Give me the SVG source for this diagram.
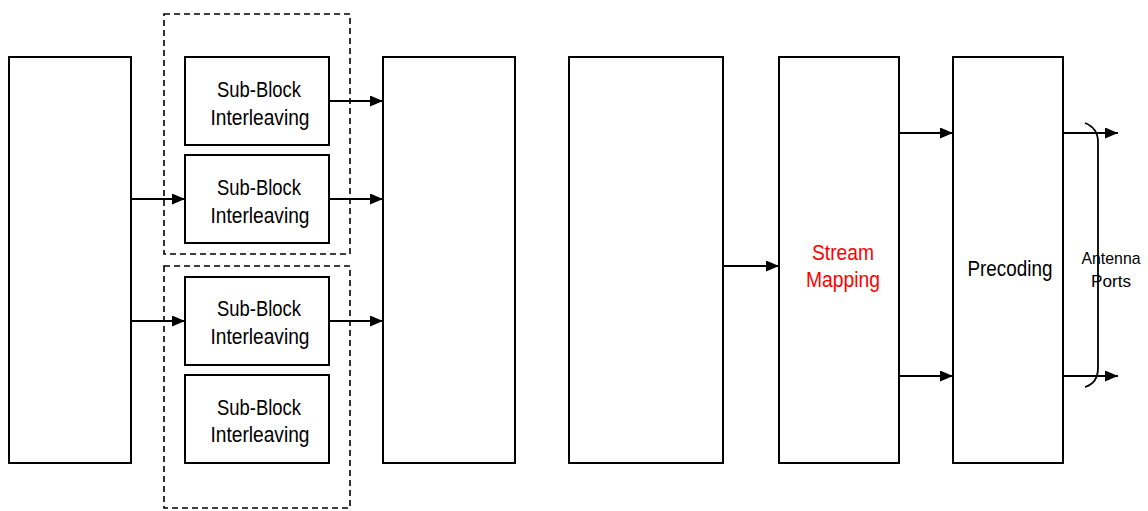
<svg xmlns="http://www.w3.org/2000/svg" width="1148" height="511" viewBox="0 0 1148 511">
<style>
.box{fill:#fff;stroke:#000;stroke-width:2}
.dash{fill:none;stroke:#000;stroke-width:1.6;stroke-dasharray:6,4}
.t{font-family:"Liberation Sans",Arial,sans-serif;font-size:22px;fill:#000;text-anchor:middle}
.r{fill:#f00}
.s{font-family:"Liberation Sans",Arial,sans-serif;font-size:17px;fill:#000;text-anchor:middle}
.c{stroke:#000;stroke-width:1.8;fill:none}
</style>
<defs>
<marker id="ah" markerWidth="13" markerHeight="11" refX="13" refY="5.5" orient="auto" markerUnits="userSpaceOnUse">
<path d="M0,0 L13,5.5 L0,11 Z" fill="#000"/>
</marker>
</defs>
<rect width="1148" height="511" fill="#fff"/>
<g id="groups">
<rect class="dash" x="164" y="14" width="186" height="240"/>
<rect class="dash" x="164" y="266" width="186" height="242"/>
</g>
<g id="block1"><rect class="box" x="9" y="57" width="122" height="406"/></g>
<g id="sbi1"><rect class="box" x="185" y="57" width="144" height="88"/>
<text class="t" x="259" y="97" textLength="84" lengthAdjust="spacingAndGlyphs">Sub-Block</text>
<text class="t" x="260" y="125" textLength="99" lengthAdjust="spacingAndGlyphs">Interleaving</text></g>
<g id="sbi2"><rect class="box" x="185" y="155" width="144" height="88"/>
<text class="t" x="259" y="195" textLength="84" lengthAdjust="spacingAndGlyphs">Sub-Block</text>
<text class="t" x="260" y="223" textLength="99" lengthAdjust="spacingAndGlyphs">Interleaving</text></g>
<g id="sbi3"><rect class="box" x="185" y="277" width="144" height="88"/>
<text class="t" x="259" y="316" textLength="84" lengthAdjust="spacingAndGlyphs">Sub-Block</text>
<text class="t" x="260" y="344" textLength="99" lengthAdjust="spacingAndGlyphs">Interleaving</text></g>
<g id="sbi4"><rect class="box" x="185" y="375" width="144" height="88"/>
<text class="t" x="259" y="415" textLength="84" lengthAdjust="spacingAndGlyphs">Sub-Block</text>
<text class="t" x="260" y="442" textLength="99" lengthAdjust="spacingAndGlyphs">Interleaving</text></g>
<g id="block3"><rect class="box" x="383" y="57" width="132" height="406"/></g>
<g id="block4"><rect class="box" x="569" y="57" width="154" height="406"/></g>
<g id="stream"><rect class="box" x="779" y="57" width="120" height="406"/>
<text class="t r" x="843" y="260" textLength="62" lengthAdjust="spacingAndGlyphs">Stream</text>
<text class="t r" x="843" y="287" textLength="74" lengthAdjust="spacingAndGlyphs">Mapping</text></g>
<g id="precoding"><rect class="box" x="953" y="57" width="110" height="406"/>
<text class="t" x="1010" y="276" textLength="85" lengthAdjust="spacingAndGlyphs">Precoding</text></g>
<g id="connectors">
<line class="c" x1="329" y1="101" x2="383" y2="101" marker-end="url(#ah)"/>
<line class="c" x1="131" y1="199" x2="185" y2="199" marker-end="url(#ah)"/>
<line class="c" x1="329" y1="199" x2="383" y2="199" marker-end="url(#ah)"/>
<line class="c" x1="131" y1="321" x2="185" y2="321" marker-end="url(#ah)"/>
<line class="c" x1="329" y1="321" x2="383" y2="321" marker-end="url(#ah)"/>
<line class="c" x1="723" y1="266" x2="779" y2="266" marker-end="url(#ah)"/>
<line class="c" x1="899" y1="133" x2="953" y2="133" marker-end="url(#ah)"/>
<line class="c" x1="899" y1="376" x2="953" y2="376" marker-end="url(#ah)"/>
<line class="c" x1="1063" y1="133" x2="1118" y2="133" marker-end="url(#ah)"/>
<line class="c" x1="1063" y1="376" x2="1118" y2="376" marker-end="url(#ah)"/>
</g>
<g id="antenna">
<path class="c" d="M1085,123 Q1098,128 1098,142 L1098,368 Q1098,383 1085,387"/>
<text class="s" x="1111" y="264" textLength="59" lengthAdjust="spacingAndGlyphs">Antenna</text>
<text class="s" x="1111" y="287" textLength="40" lengthAdjust="spacingAndGlyphs">Ports</text>
</g>
</svg>
